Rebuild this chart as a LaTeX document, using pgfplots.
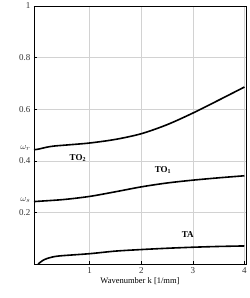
\documentclass[border=0pt]{standalone}
\usepackage{fontspec}
\setmainfont{Liberation Serif}
\usepackage{pgfplots}
\pgfplotsset{compat=1.18}
\begin{document}
\begin{tikzpicture}
\begin{axis}[
  scale only axis, width=212pt, height=258pt,
  xmin=-0.08, xmax=4.03, ymin=0, ymax=1,
  axis line style={line width=0.9pt},
  xtick={1,2,3,4}, ytick={0.2,0.4,0.6,0.8,1},
  yticklabels={0.2,0.4,0.6,0.8,1},
  extra y ticks={0.444,0.243},
  extra y tick labels={$\omega_r$,$\omega_s$},
  extra y tick style={grid=none, major tick length=0pt, tick label style={font=\fontsize{9.5}{10}\selectfont, yshift=1pt}},
  tick align=inside, major tick length=3pt,
  tick style={black, line width=0.5pt},
  xtick pos=left, ytick pos=left,
  grid=major, grid style={gray!35, line width=0.5pt},
  tick label style={font=\fontsize{9}{10}\selectfont, text=black!80},
  /pgf/number format/assume math mode=true,
  xlabel={Wavenumber k [1/mm]},
  xlabel style={font=\fontsize{8.5}{9}\selectfont, yshift=3pt},
]
\addplot[black, line width=1.6pt, smooth] coordinates {
(-0.08,0.443) (0,0.445) (0.15,0.452) (0.3,0.457) (0.6,0.462) (1,0.469) (1.5,0.483) (2,0.505) (2.5,0.540) (3,0.585) (3.5,0.635) (4,0.686)};
\addplot[black, line width=1.6pt, smooth] coordinates {
(-0.08,0.242) (0,0.243) (0.5,0.250) (1,0.262) (1.5,0.280) (2,0.299) (2.5,0.314) (3,0.325) (3.5,0.334) (4,0.342)};
\addplot[black, line width=1.6pt, smooth] coordinates {
(0,0.0) (0.05,0.008) (0.1,0.015) (0.2,0.023) (0.4,0.031) (1,0.040) (1.5,0.050) (2,0.056) (2.5,0.061) (3,0.065) (3.5,0.068) (4,0.070)};
\node[font=\bfseries\fontsize{9}{10}\selectfont] at (axis cs:0.77,0.41) {TO$_\mathbf{2}$};
\node[font=\bfseries\fontsize{9}{10}\selectfont] at (axis cs:2.42,0.365) {TO$_\mathbf{1}$};
\node[font=\bfseries\fontsize{9}{10}\selectfont] at (axis cs:2.9,0.113) {TA};
\end{axis}
\pgfresetboundingbox
\path ([shift={(-34pt,-34pt)}]current axis.south west) rectangle ([shift={(4pt,6pt)}]current axis.north east);
\end{tikzpicture}
\end{document}
